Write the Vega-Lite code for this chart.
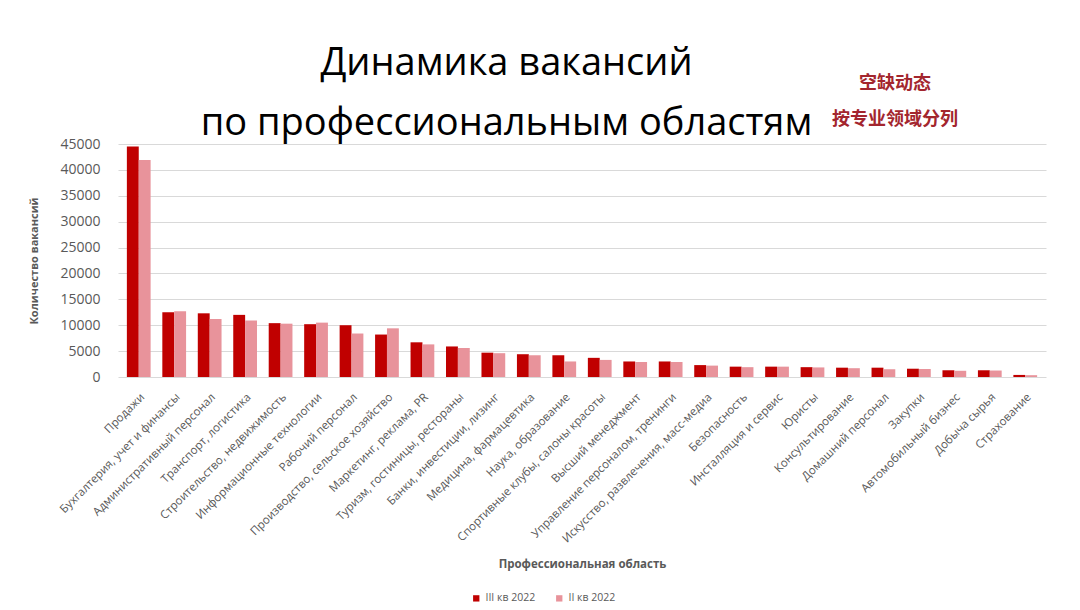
{
  "$schema": "https://vega.github.io/schema/vega-lite/v6.json",
  "background": "white",
  "padding": {"left": 28, "top": 45, "right": 10, "bottom": 3},
  "title": {
    "text": ["Динамика вакансий", "по профессиональным областям"],
    "font": "Open Sans", "fontSize": 38, "fontWeight": "normal", "color": "#000000",
    "anchor": "middle", "lineHeight": 60, "offset": -68, "dx": -31
  },
  "vconcat": [
    {
      "title": {
        "text": ["空缺动态", "按专业领域分列"],
        "font": "Noto Sans CJK SC", "fontSize": 18, "fontWeight": "bold", "color": "#A3262E",
        "anchor": "end", "frame": "group", "align": "center", "dx": -151, "lineHeight": 36, "offset": 8
      },
      "width": 928,
      "height": 233,
      "data": {
        "values": [
          {"area": "Продажи", "quarter": "III кв 2022", "vacancies": 44500},
          {"area": "Продажи", "quarter": "II кв 2022", "vacancies": 41900},
          {"area": "Бухгалтерия, учет и финансы", "quarter": "III кв 2022", "vacancies": 12500},
          {"area": "Бухгалтерия, учет и финансы", "quarter": "II кв 2022", "vacancies": 12700},
          {"area": "Административный персонал", "quarter": "III кв 2022", "vacancies": 12300},
          {"area": "Административный персонал", "quarter": "II кв 2022", "vacancies": 11200},
          {"area": "Транспорт, логистика", "quarter": "III кв 2022", "vacancies": 12000},
          {"area": "Транспорт, логистика", "quarter": "II кв 2022", "vacancies": 10900},
          {"area": "Строительство, недвижимость", "quarter": "III кв 2022", "vacancies": 10400},
          {"area": "Строительство, недвижимость", "quarter": "II кв 2022", "vacancies": 10300},
          {"area": "Информационные технологии", "quarter": "III кв 2022", "vacancies": 10200},
          {"area": "Информационные технологии", "quarter": "II кв 2022", "vacancies": 10500},
          {"area": "Рабочий персонал", "quarter": "III кв 2022", "vacancies": 10000},
          {"area": "Рабочий персонал", "quarter": "II кв 2022", "vacancies": 8400},
          {"area": "Производство, сельское хозяйство", "quarter": "III кв 2022", "vacancies": 8200},
          {"area": "Производство, сельское хозяйство", "quarter": "II кв 2022", "vacancies": 9400},
          {"area": "Маркетинг, реклама, PR", "quarter": "III кв 2022", "vacancies": 6700},
          {"area": "Маркетинг, реклама, PR", "quarter": "II кв 2022", "vacancies": 6300},
          {"area": "Туризм, гостиницы, рестораны", "quarter": "III кв 2022", "vacancies": 5900},
          {"area": "Туризм, гостиницы, рестораны", "quarter": "II кв 2022", "vacancies": 5600},
          {"area": "Банки, инвестиции, лизинг", "quarter": "III кв 2022", "vacancies": 4700},
          {"area": "Банки, инвестиции, лизинг", "quarter": "II кв 2022", "vacancies": 4600},
          {"area": "Медицина, фармацевтика", "quarter": "III кв 2022", "vacancies": 4400},
          {"area": "Медицина, фармацевтика", "quarter": "II кв 2022", "vacancies": 4200},
          {"area": "Наука, образование", "quarter": "III кв 2022", "vacancies": 4200},
          {"area": "Наука, образование", "quarter": "II кв 2022", "vacancies": 3000},
          {"area": "Спортивные клубы, салоны красоты", "quarter": "III кв 2022", "vacancies": 3700},
          {"area": "Спортивные клубы, салоны красоты", "quarter": "II кв 2022", "vacancies": 3300},
          {"area": "Высший менеджмент", "quarter": "III кв 2022", "vacancies": 3000},
          {"area": "Высший менеджмент", "quarter": "II кв 2022", "vacancies": 2900},
          {"area": "Управление персоналом, тренинги", "quarter": "III кв 2022", "vacancies": 3000},
          {"area": "Управление персоналом, тренинги", "quarter": "II кв 2022", "vacancies": 2900},
          {"area": "Искусство, развлечения, масс-медиа", "quarter": "III кв 2022", "vacancies": 2300},
          {"area": "Искусство, развлечения, масс-медиа", "quarter": "II кв 2022", "vacancies": 2200},
          {"area": "Безопасность", "quarter": "III кв 2022", "vacancies": 2000},
          {"area": "Безопасность", "quarter": "II кв 2022", "vacancies": 1900},
          {"area": "Инсталляция и сервис", "quarter": "III кв 2022", "vacancies": 2000},
          {"area": "Инсталляция и сервис", "quarter": "II кв 2022", "vacancies": 2000},
          {"area": "Юристы", "quarter": "III кв 2022", "vacancies": 1900},
          {"area": "Юристы", "quarter": "II кв 2022", "vacancies": 1850},
          {"area": "Консультирование", "quarter": "III кв 2022", "vacancies": 1800},
          {"area": "Консультирование", "quarter": "II кв 2022", "vacancies": 1700},
          {"area": "Домашний персонал", "quarter": "III кв 2022", "vacancies": 1800},
          {"area": "Домашний персонал", "quarter": "II кв 2022", "vacancies": 1500},
          {"area": "Закупки", "quarter": "III кв 2022", "vacancies": 1600},
          {"area": "Закупки", "quarter": "II кв 2022", "vacancies": 1550},
          {"area": "Автомобильный бизнес", "quarter": "III кв 2022", "vacancies": 1300},
          {"area": "Автомобильный бизнес", "quarter": "II кв 2022", "vacancies": 1200},
          {"area": "Добыча сырья", "quarter": "III кв 2022", "vacancies": 1300},
          {"area": "Добыча сырья", "quarter": "II кв 2022", "vacancies": 1250},
          {"area": "Страхование", "quarter": "III кв 2022", "vacancies": 400},
          {"area": "Страхование", "quarter": "II кв 2022", "vacancies": 350}
        ]
      },
      "mark": {"type": "bar"},
      "encoding": {
        "x": {
          "field": "area", "type": "nominal", "sort": null,
          "scale": {"paddingInner": 0.33, "paddingOuter": 0.25},
          "title": "Профессиональная область",
          "axis": {
            "labelAngle": -45, "labelFont": "Open Sans", "labelFontSize": 11.5, "labelColor": "#595959",
            "ticks": false, "domain": false, "labelPadding": 14, "labelLimit": 300,
            "titleFont": "Open Sans", "titleFontSize": 11.5, "titleFontWeight": "bold", "titleColor": "#595959",
            "titlePadding": 14
          }
        },
        "xOffset": {"field": "quarter", "type": "nominal", "sort": ["III кв 2022", "II кв 2022"]},
        "y": {
          "field": "vacancies", "type": "quantitative",
          "scale": {"domain": [0, 45000]},
          "title": "Количество вакансий",
          "axis": {
            "values": [0, 5000, 10000, 15000, 20000, 25000, 30000, 35000, 40000, 45000],
            "format": "d", "grid": true, "gridColor": "#d9d9d9", "domain": false, "ticks": false,
            "labelPadding": 18, "labelFont": "Open Sans", "labelFontSize": 14, "labelColor": "#595959",
            "titleFont": "Open Sans", "titleFontSize": 11, "titleFontWeight": "bold", "titleColor": "#595959",
            "titlePadding": 20
          }
        },
        "color": {
          "field": "quarter", "type": "nominal",
          "scale": {"domain": ["III кв 2022", "II кв 2022"], "range": ["#C00000", "#E8939B"]},
          "legend": {
            "orient": "none", "legendX": 353, "legendY": 449, "direction": "horizontal", "title": null,
            "symbolType": "square", "symbolSize": 40, "labelFont": "Open Sans", "labelFontSize": 10.5,
            "labelColor": "#595959", "columnPadding": 18
          }
        }
      }
    }
  ],
  "config": {"view": {"stroke": null}}
}
